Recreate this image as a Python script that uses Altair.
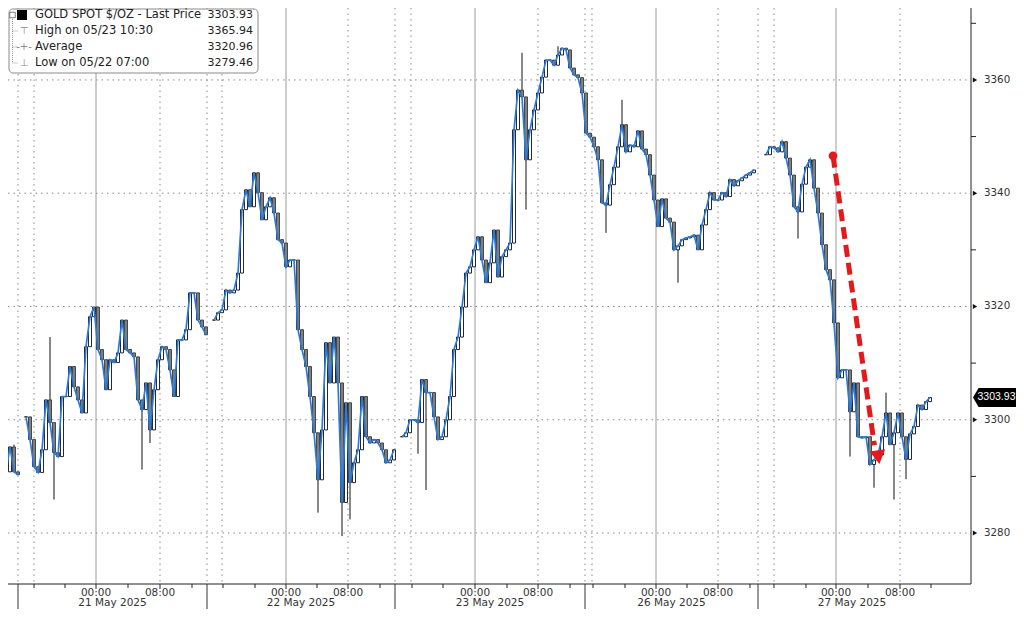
import altair as alt
import pandas as pd

# ---- price data: one close per 30-minute slot (None = no trading) ----
CLOSE = [
    3288.5, 3290.8, 3295.2, 3290.8, 3290.3, None, 3300.5, 3296.5, 3291.7, 3290.7,
    3294.7, 3303.5, 3299.5, 3294.2, 3293.5, 3304.1, 3304.1, 3309.4, 3305.8, 3303.5,
    3301.2, 3312.9, 3318.2, 3319.9, 3312.4, 3310.6, 3305.3, 3310.6, 3310.1, 3311.8,
    3317.6, 3312.4, 3311.8, 3311.1, 3303.5, 3301.8, 3306.5, 3298.2, 3305.3, 3310.6,
    3312.9, 3312.4, 3308.8, 3304.1, 3314.1, 3314.1, 3315.9, 3322.4, 3322.4, 3317.6,
    3316.4, 3315.0, None, 3317.6, 3318.9, 3319.4, 3322.9, 3322.4, 3322.9, 3325.9,
    3337.1, 3340.6, 3337.6, 3343.6, 3340.1, 3335.3, 3337.6, 3339.2, 3336.5, 3331.8,
    3331.2, 3327.0, 3328.2, 3328.2, 3315.9, 3312.4, 3309.4, 3304.1, 3297.7, 3289.4,
    3298.2, 3313.6, 3306.5, 3314.6, 3306.5, 3285.4, 3303.0, 3288.9, 3292.4, 3294.7,
    3304.1, 3297.0, 3295.9, 3296.5, 3295.9, 3294.7, 3292.4, 3292.9, 3294.7, None,
    3297.0, 3297.7, 3300.0, 3300.0, 3299.5, 3307.1, 3304.8, 3304.8, 3300.5, 3296.5,
    3297.0, 3300.0, 3304.1, 3312.4, 3314.6, 3319.9, 3325.9, 3327.0, 3330.0, 3332.3,
    3328.2, 3324.2, 3327.7, 3333.5, 3325.2, 3328.8, 3330.0, 3331.2, 3351.2, 3358.2,
    3357.0, 3345.9, 3351.2, 3354.7, 3357.7, 3360.5, 3363.5, 3363.5, 3362.6, 3364.4,
    3365.6, 3365.3, 3362.1, 3360.9, 3360.4, 3357.7, 3350.6, 3349.9, 3348.2, 3345.9,
    3338.3, 3337.9, 3341.5, 3344.6, 3348.2, 3352.1, 3347.3, 3348.5, 3348.2, 3351.0,
    3347.8, 3346.8, 3343.2, 3338.8, 3334.1, 3339.0, 3335.6, 3334.9, 3330.0, 3330.7,
    3331.8, 3332.1, 3332.3, 3332.6, 3330.0, 3334.4, 3337.1, 3340.1, 3338.8, 3338.8,
    3340.1, 3339.4, 3342.4, 3341.3, 3342.2, 3342.7, 3343.2, 3343.6, 3344.1, None,
    None, 3346.8, 3348.2, 3348.0, 3347.3, 3349.1, 3346.2, 3343.2, 3337.6, 3336.7,
    3341.6, 3344.6, 3345.9, 3340.9, 3336.5, 3330.9, 3326.5, 3324.7, 3317.1, 3307.4,
    3308.8, 3308.8, 3301.4, 3306.5, 3297.0, 3296.8, 3297.0, 3292.1, 3292.9, 3293.8,
    3297.0, 3301.2, 3295.6, 3297.7, 3301.2, 3297.0, 3293.0, 3297.5, 3298.8, 3302.6,
    3301.8, 3303.2, 3303.93,
]
# extreme wicks (slot, high, low)
SPIKE_SLOT = [3, 12, 13, 35, 37, 79, 85, 87, 104, 106, 130, 131, 139, 151, 155,
              169, 199, 209, 212, 218, 221, 223, 226]
SPIKE_HIGH = [3295.6, 3314.6, None, None, None, None, None, None, None, None, 3364.8,
              None, 3365.94, None, 3356.5, None, None, None, None, None, 3304.8, None, None]
SPIKE_LOW = [None, None, 3285.9, 3291.2, 3295.9, 3283.6, 3279.46, 3282.4, 3294.0, 3287.6,
             None, 3337.1, None, 3333.0, None, 3324.2, 3332.0, 3316.4, 3293.5, 3288.0,
             None, 3285.9, 3289.5]

GRID_PRICES = [3280, 3300, 3320, 3340, 3360]
PRICE_LABELS = ["3280", "3300", "3320", "3340", "3360"]
MINOR_PRICES = [3290, 3310, 3330, 3350, 3370]

MIDNIGHT = [24.0, 71.5, 118.75, 164.0, 209.0]
EIGHT_AM = [40.0, 87.0, 134.5, 179.5, 225.0]
BOUNDARY = [4.5, 51.75, 98.75, 146.25, 189.5]
FOUR_PM = [8.5, 55.5, 102.75, 148.0, 193.5]
MINOR_TICKS = [8.5, 16.25, 32.0, 48.0, 55.75, 63.75, 79.25, 95.0, 103.0, 110.75, 126.75,
               142.5, 148.25, 156.25, 171.75, 187.5, 193.5, 201.5, 217.0, 232.75]
DATE_POS = [28.125, 75.25, 122.5, 167.875, 213.0]
DATE_LABELS = ["21 May 2025", "22 May 2025", "23 May 2025", "26 May 2025", "27 May 2025"]

LEGEND_LABELS = ["GOLD SPOT $/OZ - Last Price", "High on 05/23 10:30", "Average", "Low on 05/22 07:00"]
LEGEND_VALUES = ["3303.93", "3365.94", "3320.96", "3279.46"]
LEGEND_ICONS = ["", "\u22a4", "-+-", "\u22a5"]

ARROW_T = [208.25, 218.6]
ARROW_P = [3346.6, 3295.5]
ARROW_HEAD_T = 219.6
ARROW_HEAD_P = 3293.4
LAST_PRICE = 3303.93

W, H = 963, 576
FONT = "DejaVu Sans"

# ---- build candle table ----
spikes = {s: (h, l) for s, h, l in zip(SPIKE_SLOT, SPIKE_HIGH, SPIKE_LOW)}
rows = []
prev = None
seg = 0
for k, c in enumerate(CLOSE):
    if c is None:
        prev = None
        seg += 1
        continue
    o = prev if prev is not None else c
    hi, lo = max(o, c), min(o, c)
    if k in spikes:
        sh, sl = spikes[k]
        if sh is not None:
            hi = max(hi, sh)
        if sl is not None:
            lo = min(lo, sl)
    up = c >= o
    rows.append(dict(t=k + 0.5, o=o, c=c, hi=hi, lo=lo, seg=seg,
                     fillc="#ffffff" if up else "#7f7f7f",
                     strokec="#111111" if up else "#3a3a3a"))
    prev = c
candles = pd.DataFrame(rows)

xs = alt.Scale(domain=[2, 242.75], nice=False, zero=False, padding=0)
ys = alt.Scale(domain=[3271.0, 3372.7], nice=False, zero=False, padding=0)


def X(f):
    return alt.X(f, type="quantitative", scale=xs, axis=None)


def Y(f):
    return alt.Y(f, type="quantitative", scale=ys, axis=None)


one = pd.DataFrame({"a": [0]})

# ---- gridlines ----
hgrid = alt.Chart(pd.DataFrame({"p": GRID_PRICES})).mark_rule(
    color="#8a8a8a", strokeDash=[1.5, 4], strokeWidth=1
).encode(y=Y("p"), x=alt.value(0), x2=alt.value(W))

vsolid = alt.Chart(pd.DataFrame({"t": MIDNIGHT})).mark_rule(
    color="#9a9a9a", strokeWidth=1
).encode(x=X("t"), y=alt.value(0), y2=alt.value(H))

vdot = alt.Chart(pd.DataFrame({"t": EIGHT_AM + BOUNDARY + FOUR_PM})).mark_rule(
    color="#8a8a8a", strokeDash=[1.5, 4], strokeWidth=1
).encode(x=X("t"), y=alt.value(0), y2=alt.value(H))

# ---- candles ----
wicks = alt.Chart(candles).mark_rule(color="#111111", strokeWidth=1, clip=True).encode(
    x=X("t"), y=Y("lo"), y2=alt.Y2("hi")
)
bodies = alt.Chart(candles).mark_bar(width=3.0, strokeWidth=0.9, clip=True).encode(
    x=X("t"), y=Y("o"), y2=alt.Y2("c"),
    fill=alt.Fill("fillc:N", scale=None),
    stroke=alt.Stroke("strokec:N", scale=None),
)
line = alt.Chart(candles).mark_line(color="#2a7bd8", strokeWidth=1.7, clip=True).encode(
    x=X("t"), y=Y("c"), detail="seg:N"
)

# ---- red arrow annotation ----
arrow_df = pd.DataFrame({"t": [ARROW_T[0]], "p": [ARROW_P[0]], "t2": [ARROW_T[1]], "p2": [ARROW_P[1]]})
shaft = alt.Chart(arrow_df).mark_rule(
    color="#e3191c", strokeWidth=5, strokeDash=[12, 6], strokeCap="butt"
).encode(x=X("t"), y=Y("p"), x2=alt.X2("t2"), y2=alt.Y2("p2"))
dot = alt.Chart(arrow_df).mark_circle(color="#e3191c", size=75, opacity=1).encode(x=X("t"), y=Y("p"))
head = alt.Chart(pd.DataFrame({"t": [ARROW_HEAD_T], "p": [ARROW_HEAD_P]})).mark_point(
    shape="triangle-up", filled=True, color="#e3191c", size=250, angle=171.4, opacity=1
).encode(x=X("t"), y=Y("p"))

# ---- bottom axis ----
xaxis_line = alt.Chart(one).mark_rule(color="#222222", strokeWidth=1).encode(
    x=alt.value(0), x2=alt.value(W), y=alt.value(H)
)
minor_x = alt.Chart(pd.DataFrame({"t": MINOR_TICKS})).mark_rule(color="#222222").encode(
    x=X("t"), y=alt.value(H), y2=alt.value(H + 4)
)
major_x = alt.Chart(pd.DataFrame({"t": MIDNIGHT + EIGHT_AM})).mark_rule(color="#222222").encode(
    x=X("t"), y=alt.value(H), y2=alt.value(H + 5)
)
bound_x = alt.Chart(pd.DataFrame({"t": BOUNDARY})).mark_rule(color="#333333").encode(
    x=X("t"), y=alt.value(H), y2=alt.value(H + 30)
)
hour_lbl = alt.Chart(pd.DataFrame({
    "t": MIDNIGHT + EIGHT_AM,
    "s": ["00:00"] * len(MIDNIGHT) + ["08:00"] * len(EIGHT_AM),
})).mark_text(font=FONT, fontSize=10.5, color="#333333", baseline="middle", align="center").encode(
    x=X("t"), y=alt.value(H + 8.5), text="s:N"
)
date_lbl = alt.Chart(pd.DataFrame({"t": DATE_POS, "s": DATE_LABELS})).mark_text(
    font=FONT, fontSize=10.5, color="#333333", baseline="middle", align="center"
).encode(x=X("t"), y=alt.value(H + 19), text="s:N")

# ---- right axis ----
yaxis_line = alt.Chart(one).mark_rule(color="#222222", strokeWidth=1).encode(
    x=alt.value(W), y=alt.value(0), y2=alt.value(H)
)
wedges = alt.Chart(pd.DataFrame({"p": GRID_PRICES})).mark_point(
    shape="triangle-right", filled=True, color="#111111", size=26, opacity=1
).encode(x=alt.value(W + 4), y=Y("p"))
minor_y = alt.Chart(pd.DataFrame({"p": MINOR_PRICES})).mark_rule(color="#222222").encode(
    x=alt.value(W), x2=alt.value(W + 5), y=Y("p")
)
ylabels = alt.Chart(pd.DataFrame({"p": GRID_PRICES, "s": PRICE_LABELS})).mark_text(
    font=FONT, fontSize=10.3, color="#333333", align="left", baseline="middle"
).encode(x=alt.value(W + 13), y=Y("p"), text="s:N")

TAG_PATH = "M-1,0L-0.74,-0.44L1,-0.44L1,0.44L-0.74,0.44Z"
tag = alt.Chart(pd.DataFrame({"p": [LAST_PRICE]})).mark_point(
    shape=TAG_PATH, filled=True, color="#000000", size=1849, opacity=1
).encode(x=alt.value(W + 23.5), y=Y("p"))
tag_txt = alt.Chart(pd.DataFrame({"p": [LAST_PRICE], "s": [f"{LAST_PRICE:.2f}"]})).mark_text(
    font="Liberation Sans", fontSize=10.5, color="#ffffff", align="center", baseline="middle"
).encode(x=alt.value(W + 25.5), y=Y("p"), text="s:N")

# ---- legend box ----
box = alt.Chart(one).mark_rect(fill="#ffffff", stroke="#8a8a8a", strokeWidth=1, cornerRadius=4).encode(
    x=alt.value(1), x2=alt.value(250), y=alt.value(1), y2=alt.value(65)
)
leg = pd.DataFrame({"lab": LEGEND_LABELS, "val": LEGEND_VALUES, "icon": LEGEND_ICONS})
leg["yy"] = [7 + 16 * i for i in range(len(leg))]
leg_lab = alt.Chart(leg).mark_text(font=FONT, fontSize=11.5, color="#222222", align="left", baseline="middle").encode(
    x=alt.value(27), y=alt.Y("yy:Q", scale=None), text="lab:N"
)
leg_val = alt.Chart(leg).mark_text(font=FONT, fontSize=11, color="#222222", align="right", baseline="middle").encode(
    x=alt.value(245), y=alt.Y("yy:Q", scale=None), text="val:N"
)
leg_icon = alt.Chart(leg).mark_text(font=FONT, fontSize=10, color="#8a8a8a", align="center", baseline="middle").encode(
    x=alt.value(16), y=alt.Y("yy:Q", scale=None), text="icon:N"
)
leg_sq = alt.Chart(one).mark_point(shape="square", filled=True, color="#000000", size=100, opacity=1).encode(
    x=alt.value(14), y=alt.value(7)
)
leg_exp = alt.Chart(one).mark_point(shape="square", filled=False, color="#777777", size=30, strokeWidth=1, opacity=1).encode(
    x=alt.value(4.5), y=alt.value(7)
)
tree_v = alt.Chart(one).mark_rule(color="#999999", strokeDash=[1, 1]).encode(
    x=alt.value(4.5), y=alt.value(11), y2=alt.value(55)
)
tree_h = alt.Chart(leg.iloc[1:]).mark_rule(color="#999999", strokeDash=[1, 1]).encode(
    x=alt.value(4.5), x2=alt.value(10), y=alt.Y("yy:Q", scale=None)
)

chart = alt.layer(
    hgrid, vsolid, vdot, wicks, bodies, line, shaft, dot, head,
    xaxis_line, minor_x, major_x, bound_x, hour_lbl, date_lbl,
    yaxis_line, wedges, minor_y, ylabels, tag, tag_txt,
    box, tree_v, tree_h, leg_exp, leg_sq, leg_icon, leg_lab, leg_val,
).properties(
    width=W, height=H,
    autosize=alt.AutoSizeParams(type="none"),
    padding={"left": 0, "top": 0, "right": 45, "bottom": 25},
    background="#ffffff",
).configure_view(stroke=None)

chart.save("out.html", embed_options={"renderer": "svg", "actions": False})
